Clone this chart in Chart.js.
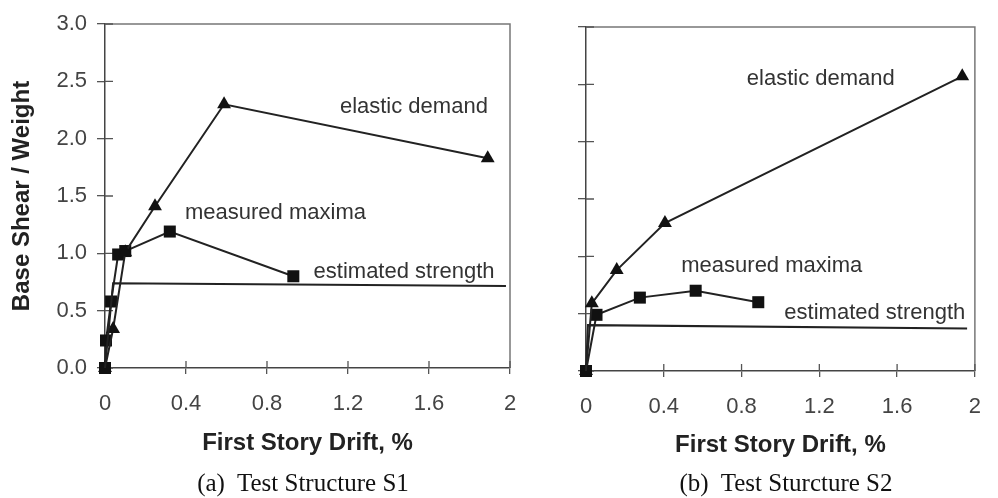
<!DOCTYPE html>
<html><head><meta charset="utf-8">
<script src="https://cdn.jsdelivr.net/npm/chart.js@4"></script>
<style>
html,body{margin:0;padding:0;background:#fff;width:998px;height:498px;overflow:hidden;position:relative}
canvas{position:absolute;top:0}
.cap{position:absolute;font-family:"Liberation Serif","Times New Roman",serif;font-size:25px;color:#111;white-space:nowrap;transform:translateX(-50%);line-height:1}
</style></head><body>
<canvas id="c1" width="540" height="498" style="left:0"></canvas>
<canvas id="c2" width="478" height="498" style="left:520px"></canvas>
<div class="cap" style="left:303px;top:470px">(a)&nbsp; Test Structure S1</div>
<div class="cap" style="left:786px;top:470px">(b)&nbsp; Test Sturcture S2</div>
<script>
// ---- data ----
const xTickLabels = ['0','0.4','0.8','1.2','1.6','2'];
const yTickLabels = ['0.0','0.5','1.0','1.5','2.0','2.5','3.0'];
const seriesNames = ['elastic demand','measured maxima','estimated strength'];

const s1ElasticX  = [0, 0.04, 0.10, 0.247, 0.588, 1.89];
const s1ElasticY  = [0, 0.34, 1.01, 1.41, 2.30, 1.83];
const s1MeasuredX = [0, 0.005, 0.03, 0.065, 0.10, 0.32, 0.93];
const s1MeasuredY = [0, 0.24, 0.58, 0.99, 1.02, 1.19, 0.80];
const s1StrengthX = [0, 0.04, 1.98];
const s1StrengthY = [0, 0.74, 0.715];

const s2ElasticX  = [0, 0.03, 0.158, 0.406, 1.935];
const s2ElasticY  = [0, 0.59, 0.88, 1.29, 2.57];
const s2MeasuredX = [0, 0.054, 0.277, 0.564, 0.886];
const s2MeasuredY = [0, 0.49, 0.64, 0.70, 0.60];
const s2StrengthX = [0, 0.01, 1.96];
const s2StrengthY = [0, 0.40, 0.37];

// label anchors (data coordinates, left edge / vertical middle)
const s1LabelX = [1.16, 0.395, 1.03];
const s1LabelY = [2.28, 1.35, 0.84];
const s2LabelX = [0.827, 0.49, 1.02];
const s2LabelY = [2.55, 0.915, 0.505];

const pts = (xs, ys) => xs.map((x, i) => ({x, y: ys[i]}));

const FONT = '"Liberation Sans", Arial, Helvetica, sans-serif';

const framePlugin = {
  id: 'frame',
  beforeDatasetsDraw(chart) {
    const {ctx, chartArea: a, scales} = chart;
    ctx.save();
    ctx.strokeStyle = '#777';
    ctx.lineWidth = 1.5;
    ctx.beginPath();
    ctx.moveTo(a.left, a.top); ctx.lineTo(a.right, a.top); ctx.lineTo(a.right, a.bottom);
    ctx.stroke();
    // inward part of tick marks
    ctx.strokeStyle = '#555';
    ctx.lineWidth = 1.3;
    ctx.beginPath();
    scales.x.ticks.forEach(t => {
      const px = scales.x.getPixelForValue(t.value);
      ctx.moveTo(px, a.bottom); ctx.lineTo(px, a.bottom - 7);
    });
    scales.y.ticks.forEach(t => {
      const py = scales.y.getPixelForValue(t.value);
      ctx.moveTo(a.left, py); ctx.lineTo(a.left + 8, py);
    });
    ctx.stroke();
    ctx.restore();
  },
  afterDraw(chart) {
    const {ctx, scales} = chart;
    const o = chart.options.plugins.seriesLabels;
    ctx.save();
    ctx.fillStyle = '#333';
    ctx.font = '22px ' + FONT;
    ctx.textAlign = 'left';
    ctx.textBaseline = 'middle';
    o.names.forEach((n, i) => {
      ctx.fillText(n, scales.x.getPixelForValue(o.xs[i]), scales.y.getPixelForValue(o.ys[i]));
    });
    ctx.restore();
  }
};

function makeChart(id, data, labX, labY, cfg) {
  const ds = (d, style, r) => ({
    data: d, showLine: true, borderColor: '#222', borderWidth: 2,
    pointStyle: style, pointRadius: r, pointBackgroundColor: '#111',
    pointBorderColor: '#111', pointBorderWidth: 0, tension: 0, clip: false
  });
  return new Chart(document.getElementById(id), {
    type: 'scatter',
    data: { datasets: [
      ds(data[2], false, 0),
      ds(data[0], 'triangle', 8),
      ds(data[1], 'rect', 8.5)
    ]},
    options: {
      responsive: false, animation: false, devicePixelRatio: 1,
      layout: { padding: cfg.padding },
      plugins: { legend: {display: false}, tooltip: {enabled: false},
        seriesLabels: { names: seriesNames, xs: labX, ys: labY } },
      scales: {
        x: {
          type: 'linear', min: 0, max: 2,
          afterFit: s => { s.height = cfg.xh; },
          border: { color: '#444', width: 1.5 },
          grid: { drawOnChartArea: false, drawTicks: true, tickLength: 6, color: '#555', lineWidth: 1.3 },
          ticks: { stepSize: 0.4, padding: 17, color: '#444', font: {family: FONT, size: 22},
            maxRotation: 0, autoSkip: false, callback: (v, i) => xTickLabels[i] },
          title: { display: true, text: 'First Story Drift, %', color: '#222',
            font: {family: FONT, size: 24, weight: 'bold'}, padding: {top: 0, bottom: cfg.xtp} }
        },
        y: {
          type: 'linear', min: 0, max: 3,
          afterFit: s => { s.width = cfg.yw; },
          border: { color: '#444', width: 1.5 },
          grid: { drawOnChartArea: false, drawTicks: true, tickLength: 8, color: '#555', lineWidth: 1.3 },
          ticks: { stepSize: 0.5, padding: 10, display: cfg.ylabels, color: '#444',
            font: {family: FONT, size: 22}, callback: (v, i) => yTickLabels[i] },
          title: { display: cfg.ylabels, text: 'Base Shear / Weight', color: '#222',
            font: {family: FONT, size: 24, weight: 'bold'}, padding: {top: 8, bottom: 0} }
        }
      }
    },
    plugins: [framePlugin]
  });
}

makeChart('c1',
  [pts(s1ElasticX, s1ElasticY), pts(s1MeasuredX, s1MeasuredY), pts(s1StrengthX, s1StrengthY)],
  s1LabelX, s1LabelY,
  { padding: {left: 0, top: 24, right: 30, bottom: 0}, xh: 130, yw: 105, xtp: 40, ylabels: true });

makeChart('c2',
  [pts(s2ElasticX, s2ElasticY), pts(s2MeasuredX, s2MeasuredY), pts(s2StrengthX, s2StrengthY)],
  s2LabelX, s2LabelY,
  { padding: {left: 0, top: 27, right: 8, bottom: 0}, xh: 127, yw: 66, xtp: 38, ylabels: false });
</script>
</body></html>
